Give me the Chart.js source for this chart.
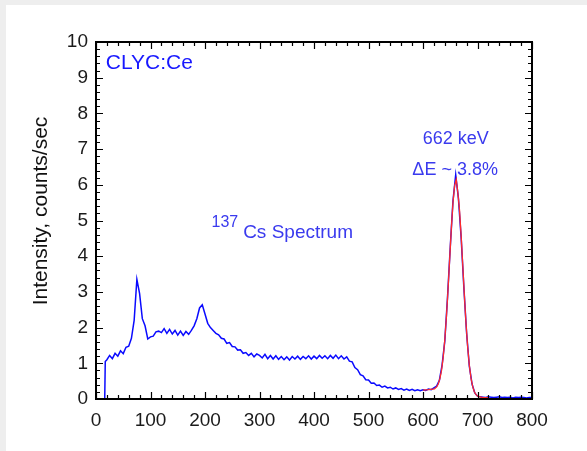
<!DOCTYPE html>
<html lang="en">
<head>
<meta charset="UTF-8">
<title>CLYC:Ce 137Cs spectrum</title>
<script src="https://cdn.jsdelivr.net/npm/chart.js"></script>
<style>
  body { margin: 0; background: #eeeeee; }
  #panel { position: absolute; left: 6px; top: 5px; width: 581px; height: 446px; background: #ffffff; }
  #myChart { position: absolute; left: 0; top: 0; }
</style>
</head>
<body>
<div id="panel"></div>
<canvas id="myChart" width="587" height="451"></canvas>

<script>
// measured spectrum (energy in keV, intensity in counts/sec)
var spectrumE = [16, 17,
    20, 25, 30, 35, 40, 45, 50, 55, 60, 65,
    70, 75, 80, 85, 90, 95, 100, 105, 110, 115,
    120, 125, 130, 135, 140, 145, 150, 155, 160, 165,
    170, 175, 180, 185, 190, 195, 200, 205, 210, 215,
    220, 225, 230, 235, 240, 245, 250, 255, 260, 265,
    270, 275, 280, 285, 290, 295, 300, 305, 310, 315,
    320, 325, 330, 335, 340, 345, 350, 355, 360, 365,
    370, 375, 380, 385, 390, 395, 400, 405, 410, 415,
    420, 425, 430, 435, 440, 445, 450, 455, 460, 465,
    470, 475, 480, 485, 490, 495, 500, 505, 510, 515,
    520, 525, 530, 535, 540, 545, 550, 555, 560, 565,
    570, 575, 580, 585, 590, 595, 600, 605, 610, 615,
    620, 625, 630, 635, 640, 645, 650, 655, 660, 665,
    670, 675, 680, 685, 690, 695, 700, 705, 710, 715,
    720, 725, 730, 735, 740, 745, 750, 755, 760, 765,
    770, 775, 780, 785, 790, 795, 800];
var spectrumCounts = [0, 1.05,
    1.10, 1.22, 1.13, 1.28, 1.20, 1.35, 1.27, 1.45, 1.48, 1.70,
    2.20, 3.35, 2.95, 2.25, 2.05, 1.68, 1.74, 1.76, 1.88, 1.90,
    1.86, 1.97, 1.84, 1.95, 1.82, 1.92, 1.79, 1.90, 1.78, 1.89,
    1.81, 1.92, 2.05, 2.25, 2.55, 2.64, 2.38, 2.12, 2.00, 1.92,
    1.84, 1.80, 1.70, 1.68, 1.56, 1.58, 1.47, 1.46, 1.37, 1.38,
    1.28, 1.30, 1.22, 1.28, 1.18, 1.26, 1.22, 1.15, 1.25, 1.13,
    1.22, 1.12, 1.21, 1.11, 1.19, 1.10, 1.18, 1.09, 1.19, 1.12,
    1.20, 1.11, 1.19, 1.13, 1.21, 1.12, 1.20, 1.13, 1.22, 1.14,
    1.21, 1.13, 1.22, 1.14, 1.23, 1.13, 1.21, 1.12, 1.18, 1.06,
    1.04, 0.88, 0.82, 0.68, 0.65, 0.54, 0.53, 0.44, 0.45, 0.38,
    0.39, 0.33, 0.36, 0.31, 0.33, 0.28, 0.31, 0.27, 0.29, 0.25,
    0.28, 0.24, 0.27, 0.23, 0.26, 0.23, 0.26, 0.24, 0.28, 0.26,
    0.31, 0.36, 0.52, 0.95, 1.62, 2.85, 4.25, 5.55, 6.28, 5.62,
    4.52, 3.12, 1.85, 0.92, 0.42, 0.17, 0.08, 0.06, 0.05, 0.04,
    0.06, 0.05, 0.04, 0.05, 0.06, 0.04, 0.05, 0.04, 0.05, 0.03,
    0.05, 0.04, 0.05, 0.04, 0.03, 0.04, 0.04];

// gaussian fit of the 662 keV peak
var fitE = [600, 610, 621, 625, 628, 631, 634, 637, 640, 643, 646, 649, 652, 655, 658, 661,
    664, 667, 670, 673, 676, 679, 682, 685, 688, 691, 694, 697, 701, 710, 720];
var fitCounts = [0.25, 0.26, 0.28, 0.34, 0.42, 0.57, 0.80, 1.16, 1.66, 2.31, 3.09, 3.94, 4.78, 5.50, 5.98, 6.15,
    5.77, 5.29, 4.57, 3.73, 2.88, 2.10, 1.45, 0.95, 0.59, 0.36, 0.21, 0.13, 0.07, 0.04, 0.04];

var yTitle = 'Intensity, counts/sec';

function toPoints(xs, ys) {
    var pts = [];
    for (var i = 0; i < xs.length; i++) {
        pts.push({ x: xs[i], y: ys[i] });
    }
    return pts;
}

// frame with inward ticks on all four sides
var framePlugin = {
    id: 'frame',
    afterDatasetsDraw: function (chart) {
        var ctx = chart.ctx;
        var a = chart.chartArea;
        var xs = chart.scales.x;
        var ys = chart.scales.y;
        ctx.save();
        ctx.strokeStyle = '#000';
        ctx.lineWidth = 1.2;
        ctx.beginPath();
        for (var v = 0; v <= 800; v += 20) {
            var px = Math.round(xs.getPixelForValue(v)) + 0.5;
            var len = (v % 100 === 0) ? 7 : 4;
            ctx.moveTo(px, a.bottom); ctx.lineTo(px, a.bottom - len);
            ctx.moveTo(px, a.top); ctx.lineTo(px, a.top + len);
        }
        for (var k = 0; k <= 50; k++) {
            var py = Math.round(ys.getPixelForValue(k / 5)) + 0.5;
            var len2 = (k % 5 === 0) ? 7 : 4;
            ctx.moveTo(a.left, py); ctx.lineTo(a.left + len2, py);
            ctx.moveTo(a.right, py); ctx.lineTo(a.right - len2, py);
        }
        ctx.stroke();
        ctx.lineWidth = 2;
        ctx.strokeRect(a.left, a.top, a.right - a.left, a.bottom - a.top);
        ctx.restore();
    }
};

// text labels inside the plot + rotated axis title
var notesPlugin = {
    id: 'notes',
    afterDraw: function (chart) {
        var ctx = chart.ctx;
        var xs = chart.scales.x;
        var ys = chart.scales.y;
        ctx.save();
        ctx.textBaseline = 'middle';

        ctx.fillStyle = '#1818ff';
        ctx.font = '21px Arial, "Liberation Sans"';
        ctx.textAlign = 'left';
        ctx.fillText('CLYC:Ce', xs.getPixelForValue(18), ys.getPixelForValue(9.42));

        ctx.fillStyle = '#3a3aee';
        ctx.font = '16px Arial, "Liberation Sans"';
        ctx.fillText('137', xs.getPixelForValue(212), ys.getPixelForValue(4.93));
        ctx.font = '19px Arial, "Liberation Sans"';
        ctx.fillText('Cs Spectrum', xs.getPixelForValue(270), ys.getPixelForValue(4.66));

        ctx.textAlign = 'center';
        ctx.font = '18px Arial, "Liberation Sans"';
        ctx.fillText('662 keV', xs.getPixelForValue(660), ys.getPixelForValue(7.29));
        ctx.fillText('\u0394E ~ 3.8%', xs.getPixelForValue(659), ys.getPixelForValue(6.4));

        ctx.fillStyle = '#111';
        ctx.font = '21px Arial, "Liberation Sans"';
        ctx.textBaseline = 'alphabetic';
        ctx.translate(47, 211);
        ctx.rotate(-Math.PI / 2);
        ctx.fillText(yTitle, 0, 0);
        ctx.restore();
    }
};

const ctx = document.getElementById('myChart');

new Chart(ctx, {
    type: 'line',
    data: {
        datasets: [{
            label: 'Fit',
            data: toPoints(fitE, fitCounts),
            borderColor: '#ff2a2a',
            borderWidth: 1.3,
            pointRadius: 0,
            tension: 0,
            order: 0
        },
        {
            label: '137Cs',
            data: toPoints(spectrumE, spectrumCounts),
            borderColor: '#0a0aff',
            borderWidth: 1.5,
            pointRadius: 0,
            tension: 0,
            order: 1
        }]
    },
    options: {
        responsive: false,
        animation: false,
        layout: { padding: { top: 42, right: 55, left: 0, bottom: 0 } },
        plugins: {
            legend: { display: false },
            tooltip: { enabled: false }
        },
        scales: {
            x: {
                type: 'linear',
                min: 0,
                max: 800,
                grid: { display: false, drawTicks: false, tickLength: 0 },
                border: { display: false },
                ticks: {
                    stepSize: 100,
                    padding: 10,
                    color: '#1a1a1a',
                    font: { family: 'Arial, "Liberation Sans"', size: 19 }
                },
                afterFit: function (scale) { scale.height = 52; }
            },
            y: {
                min: 0,
                max: 10,
                grid: { display: false, drawTicks: false, tickLength: 0 },
                border: { display: false },
                ticks: {
                    stepSize: 1,
                    padding: 8,
                    color: '#1a1a1a',
                    font: { family: 'Arial, "Liberation Sans"', size: 19 }
                },
                afterFit: function (scale) { scale.width = 96; }
            }
        }
    },
    plugins: [framePlugin, notesPlugin]
});
</script>
</body>
</html>
